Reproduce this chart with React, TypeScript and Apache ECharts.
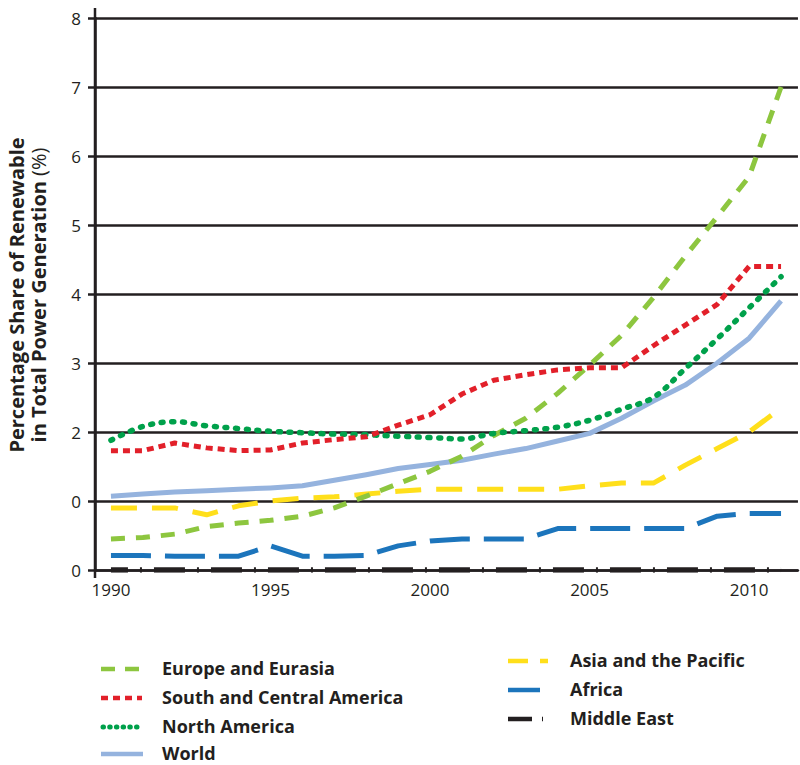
import React, { useEffect, useRef } from "react";
import * as echarts from "echarts";

const years = [1990, 1991, 1992, 1993, 1994, 1995, 1996, 1997, 1998, 1999, 2000, 2001, 2002, 2003, 2004, 2005, 2006, 2007, 2008, 2009, 2010, 2011];
const europeEurasia = [0.45, 0.47, 0.52, 0.63, 0.68, 0.72, 0.78, 0.9, 1.07, 1.25, 1.43, 1.65, 1.95, 2.2, 2.56, 2.97, 3.4, 3.95, 4.55, 5.12, 5.7, 7.0];
const southCentralAmerica = [1.73, 1.73, 1.84, 1.77, 1.73, 1.74, 1.84, 1.89, 1.93, 2.1, 2.25, 2.55, 2.75, 2.83, 2.9, 2.93, 2.93, 3.25, 3.55, 3.85, 4.4, 4.4];
const northAmerica = [1.88, 2.08, 2.15, 2.09, 2.05, 2.01, 1.99, 1.97, 1.96, 1.94, 1.92, 1.9, 1.98, 2.02, 2.07, 2.17, 2.33, 2.5, 2.92, 3.35, 3.8, 4.25];
const world = [1.07, 1.1, 1.13, 1.15, 1.17, 1.19, 1.22, 1.3, 1.38, 1.47, 1.53, 1.59, 1.68, 1.76, 1.87, 1.98, 2.2, 2.45, 2.68, 3.0, 3.36, 3.9];
const asiaPacific = [0.9, 0.9, 0.9, 0.8, 0.93, 1.0, 1.04, 1.06, 1.1, 1.14, 1.17, 1.17, 1.17, 1.17, 1.17, 1.22, 1.26, 1.26, 1.52, 1.76, 2.0, 2.35];
const africa = [0.21, 0.21, 0.2, 0.2, 0.2, 0.35, 0.2, 0.2, 0.21, 0.35, 0.42, 0.45, 0.45, 0.45, 0.6, 0.6, 0.6, 0.6, 0.6, 0.78, 0.82, 0.82];
const middleEast = [0, 0, 0, 0, 0, 0, 0, 0, 0, 0, 0, 0, 0, 0, 0, 0, 0, 0, 0, 0, 0, 0];

const yTickLabels = ["0", "0", "2", "3", "4", "5", "6", "7", "8"];
const xTickLabels = ["1990", "1995", "2000", "2005", "2010"];
const yAxisTitleLine1 = "Percentage Share of Renewable";
const yAxisTitleLine2 = "in Total Power Generation ";
const yAxisTitleUnit = "(%)";

const DARK = "#231F20";
const FONT = "'Open Sans', 'Noto Sans', sans-serif";

type SeriesDef = {
  name: string;
  values: number[];
  color: string;
  dash: number[] | "solid";
  cap: "butt" | "round";
  width: number;
  smooth?: number;
  dashOffset?: number;
  legendDash: number[] | null;
  legendCap: "butt" | "round";
  legend: { x: number; y: number; len: number };
};

const seriesDefs: SeriesDef[] = [
  { name: "World", values: world, color: "#95B3DE", dash: "solid", cap: "butt", width: 5, legendDash: null, legendCap: "butt", legend: { x: 101, y: 754, len: 42 } },
  { name: "Asia and the Pacific", values: asiaPacific, color: "#FFDF1B", dash: [26, 15], cap: "butt", width: 5, legendDash: [20, 12], legendCap: "butt", legend: { x: 508, y: 661, len: 40 } },
  { name: "Africa", values: africa, color: "#1C75BC", dash: [40, 14], cap: "butt", width: 5, legendDash: null, legendCap: "butt", legend: { x: 508, y: 690, len: 32 } },
  { name: "Europe and Eurasia", values: europeEurasia, color: "#8DC63F", dash: [14, 11], cap: "butt", width: 5, legendDash: [14, 10], legendCap: "butt", legend: { x: 101, y: 669, len: 41 } },
  { name: "North America", values: northAmerica, color: "#00A14B", dash: [2, 8.7], cap: "round", width: 5.5, smooth: 0.35, legendDash: [0.5, 6.2], legendCap: "round", legend: { x: 103, y: 727, len: 40 } },
  { name: "South and Central America", values: southCentralAmerica, color: "#E2202A", dash: [7, 5], cap: "butt", width: 5, legendDash: [7, 5], legendCap: "butt", legend: { x: 101, y: 698, len: 41 } },
  { name: "Middle East", values: middleEast, color: DARK, dash: [31, 12, 2, 12], cap: "butt", width: 5.5, dashOffset: 14, legendDash: [24, 10, 1.5, 10], legendCap: "butt", legend: { x: 508, y: 719, len: 35 } },
];

export default function App() {
  const ref = useRef<HTMLDivElement>(null);

  useEffect(() => {
    if (!ref.current) return;
    const chart = echarts.init(ref.current, null, { renderer: "svg" });

    const series = seriesDefs.map((s) => ({
      name: s.name,
      type: "line",
      data: years.map((y, i) => [y, s.values[i]]),
      showSymbol: false,
      symbol: "none",
      smooth: s.smooth || false,
      silent: true,
      lineStyle: {
        color: s.color,
        width: s.width,
        type: s.dash,
        cap: s.cap,
        join: "round",
        dashOffset: s.dashOffset || 0,
      },
      z: 3,
    }));

    const legendGraphics: any[] = [];
    seriesDefs.forEach((s) => {
      legendGraphics.push({
        type: "line",
        shape: { x1: s.legend.x, y1: s.legend.y, x2: s.legend.x + s.legend.len, y2: s.legend.y },
        style: {
          stroke: s.color,
          lineWidth: s.name === "North America" ? 5 : 4.5,
          lineDash: s.legendDash || undefined,
          lineCap: s.legendCap,
        },
      });
      const tx = s.legend.x < 300 ? 162 : 570;
      legendGraphics.push({
        type: "text",
        x: tx,
        y: s.legend.y - 1,
        style: {
          text: s.name,
          fill: DARK,
          font: `bold 18px ${FONT}`,
          align: "left",
          verticalAlign: "middle",
        },
      });
    });

    const option: any = {
      animation: false,
      grid: { left: 95, right: 0, top: 18, bottom: 195, containLabel: false },
      xAxis: {
        type: "value",
        min: 1989.5,
        max: 2011.53,
        interval: 0.5,
        axisLine: { show: true, onZero: false, lineStyle: { color: DARK, width: 2.5 } },
        axisTick: { show: false },
        splitLine: { show: false },
        axisLabel: {
          margin: 11,
          color: DARK,
          fontSize: 17,
          fontFamily: FONT,
          showMinLabel: false,
          showMaxLabel: false,
          formatter: (v: number) => {
            const s = String(Math.round(v));
            return Math.abs(v - Math.round(v)) < 1e-6 && xTickLabels.includes(s) ? s : "";
          },
        },
      },
      yAxis: {
        type: "value",
        min: 0,
        max: 8,
        interval: 1,
        axisLine: { show: true, lineStyle: { color: DARK, width: 2.5 } },
        axisTick: { show: true, inside: false, length: 7, lineStyle: { color: DARK, width: 2.5 } },
        splitLine: { show: true, lineStyle: { color: DARK, width: 2.5 } },
        axisLabel: {
          margin: 14,
          color: DARK,
          fontSize: 17,
          fontFamily: FONT,
          formatter: (v: number) => yTickLabels[Math.round(v)] ?? "",
        },
      },
      series,
      graphic: [
        {
          type: "line",
          shape: { x1: 95, y1: 8, x2: 95, y2: 578 },
          style: { stroke: DARK, lineWidth: 2.5 },
          z: 10,
        },
        {
          type: "text",
          x: 27,
          y: 295,
          rotation: Math.PI / 2,
          style: {
            text: `{b|${yAxisTitleLine1}}\n{b|${yAxisTitleLine2}}{n|${yAxisTitleUnit}}`,
            align: "center",
            verticalAlign: "middle",
            fill: DARK,
            rich: {
              b: { font: `bold 20px ${FONT}`, fill: DARK, lineHeight: 22 },
              n: { font: `20px ${FONT}`, fill: DARK, lineHeight: 22 },
            },
          },
        },
        ...legendGraphics,
      ],
    };

    chart.setOption(option);
    return () => chart.dispose();
  }, []);

  return (
    <div
      ref={ref}
      style={{ position: "absolute", left: 0, top: 0, width: 800, height: 765, background: "#fff" }}
    />
  );
}
